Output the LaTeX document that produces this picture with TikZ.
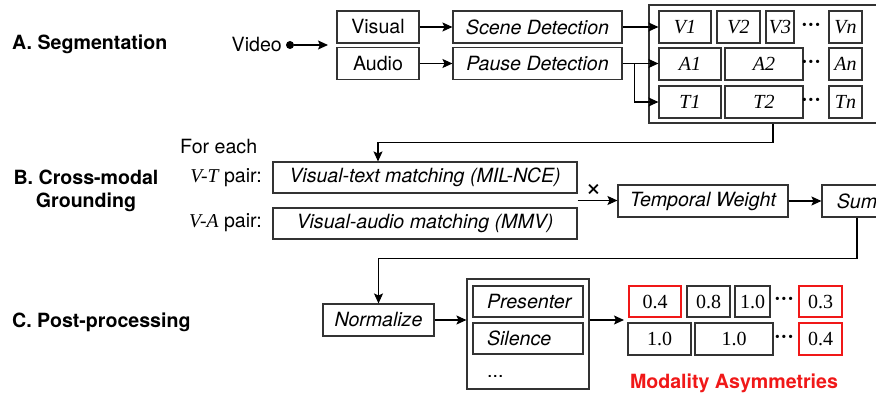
\documentclass[tikz,border=0pt]{standalone}
\usepackage{fontspec}
\setmainfont{Liberation Serif}
\setsansfont{TeX Gyre Heros}
\usetikzlibrary{arrows.meta,calc}
\definecolor{boxgray}{HTML}{333333}
\definecolor{hired}{HTML}{F01818}
\begin{document}
\begin{tikzpicture}[x=1pt,y=-1pt,
  every node/.style={font=\sffamily\fontsize{19.6}{23}\selectfont, inner sep=0pt},
  bx/.style={draw=boxgray, line width=1.1pt, minimum height=32},
  itbx/.style={bx, font=\sffamily\itshape\fontsize{19.6}{23}\selectfont},
  seg/.style={bx, font=\rmfamily\itshape\fontsize{20}{23}\selectfont},
  num/.style={bx, font=\rmfamily\fontsize{20}{23}\selectfont},
  redbx/.style={draw=hired},
  dotsnode/.style={font=\rmfamily\bfseries\fontsize{20}{22}\selectfont},
  arr/.style={-{Stealth[length=10pt,width=9pt,inset=2pt]}, line width=1.1pt},
  ln/.style={line width=1.1pt},
  sect/.style={font=\sffamily\bfseries\fontsize{19.6}{23}\selectfont}]
\useasboundingbox (0,0) rectangle (876,393);
\clip (0,0) rectangle (876,393);

% ---- Section labels
\node[sect, anchor=west] (la) at (12,44) {A. Segmentation};
\node[sect, align=center] (lb) at (86,191) {B. Cross-modal\\Grounding};
\node[sect, anchor=west] (lc) at (12,322) {C. Post-processing};

% ---- Row A
\node[anchor=east] (video) at (282,45) {Video};
\node[circle, fill=black, minimum size=8, inner sep=0] (vdot) at (290,45) {};
\node[bx, minimum width=82] (vis) at (378,27) {Visual};
\node[bx, minimum width=82] (aud) at (378,63.5) {Audio};
\coordinate (vin) at (328,45);
\draw[arr] (vdot) -- (vin);
\node[itbx, minimum width=169] (scene) at (537.5,27) {Scene Detection};
\node[itbx, minimum width=169] (pause) at (537.5,63.5) {Pause Detection};
\draw[arr] (vis) -- (scene);
\draw[arr] (aud) -- (pause);

\node[draw=boxgray, line width=1.1pt, minimum width=248, minimum height=118] (segbox) at (773,64) {};
% V row
\node[seg, minimum width=52] (v1) at (685,27) {V1};
\node[seg, minimum width=43] (v2) at (738.5,27) {V2};
\node[seg, minimum width=28] (v3) at (780,27) {V3};
\node[dotsnode] (vd) at (811,27) {···};
\node[seg, minimum width=33] (vn) at (845.5,27) {Vn};
% A row
\node[seg, minimum width=62] (a1) at (690,64) {A1};
\node[seg, minimum width=78] (a2) at (764,64) {A2};
\node[dotsnode] (ad) at (811,64) {···};
\node[seg, minimum width=33] (an) at (845.5,64) {An};
% T row
\node[seg, minimum width=62] (t1) at (690,102) {T1};
\node[seg, minimum width=78] (t2) at (764,102) {T2};
\node[dotsnode] (td) at (811,102) {···};
\node[seg, minimum width=33] (tn) at (845.5,102) {Tn};

\draw[arr] (scene) -- (v1);
\draw[arr] (pause.east) -- (a1.west |- pause.east);
\draw[arr] ([xshift=12]pause.east) |- (t1.west);

% ---- Row B
\node[anchor=west] (foreach) at (180,147) {For each};
\node[anchor=east] (vtl) at (262,178) {\rmfamily\itshape V-T\sffamily\upshape{} pair:};
\node[anchor=east] (val) at (262,223) {\rmfamily\itshape V-A\sffamily\upshape{} pair:};
\node[itbx, minimum width=304, minimum height=31] (vt) at (425,177.5) {Visual-text matching (MIL-NCE)};
\node[itbx, minimum width=304, minimum height=31] (va) at (425,223.5) {Visual-audio matching (MMV)};
\draw[arr] (segbox.south) -- ++(0,19) -| ([xshift=-47]vt.north);

\node[itbx, minimum width=170] (tw) at (703,201) {Temporal Weight};
\node[itbx, minimum width=70] (sum) at (857,201) {Sum};
\coordinate (vtva) at ($(vt.south east)!0.5!(va.north east)$);
\draw[arr] (vtva) -- (vtva -| tw.west) node[midway, above=3pt, font=\sffamily\fontsize{28}{28}\selectfont, xshift=-4pt] {×};
\draw[arr] (tw) -- (sum);

% ---- Row C
\node[itbx, minimum width=111] (norm) at (378.5,320) {Normalize};
\draw[arr] (sum.south) -- ++(0,41) -| (norm.north);
\node[draw=boxgray, line width=1.1pt, minimum width=122, minimum height=110] (cbox) at (528,334) {};
\node[itbx, minimum height=31, text width=82, inner xsep=14, align=left] (pres) at (528,301.5) {Presenter};
\node[itbx, minimum height=31, text width=82, inner xsep=14, align=left] (sil) at (528,338.5) {Silence};
\node[anchor=base west] (cdots) at (487,377) {...};
\draw[arr] (norm.east) -- (norm.east -| cbox.west);
\coordinate (scin) at (624,320);
\draw[arr] (norm.east -| cbox.east) -- (scin);

% score boxes
\node[num, redbx, minimum width=52, minimum height=31] (s11) at (655,301.5) {0.4};
\node[num, minimum width=43, minimum height=31] (s12) at (708.5,301.5) {0.8};
\node[num, minimum width=35, minimum height=31] (s13) at (752.5,301.5) {1.0};
\node[dotsnode] (sd1) at (784,301.5) {···};
\node[num, redbx, minimum width=43, minimum height=31] (s14) at (820.5,301.5) {0.3};
\node[num, minimum width=63] (s21) at (659.5,339) {1.0};
\node[num, minimum width=78] (s22) at (734,339) {1.0};
\node[dotsnode] (sd2) at (784,339) {···};
\node[num, redbx, minimum width=43] (s23) at (820.5,339) {0.4};
\node[font=\sffamily\bfseries\fontsize{19.6}{23}\selectfont, text=hired] (asym) at (734,383) {Modality Asymmetries};
\end{tikzpicture}
\end{document}
